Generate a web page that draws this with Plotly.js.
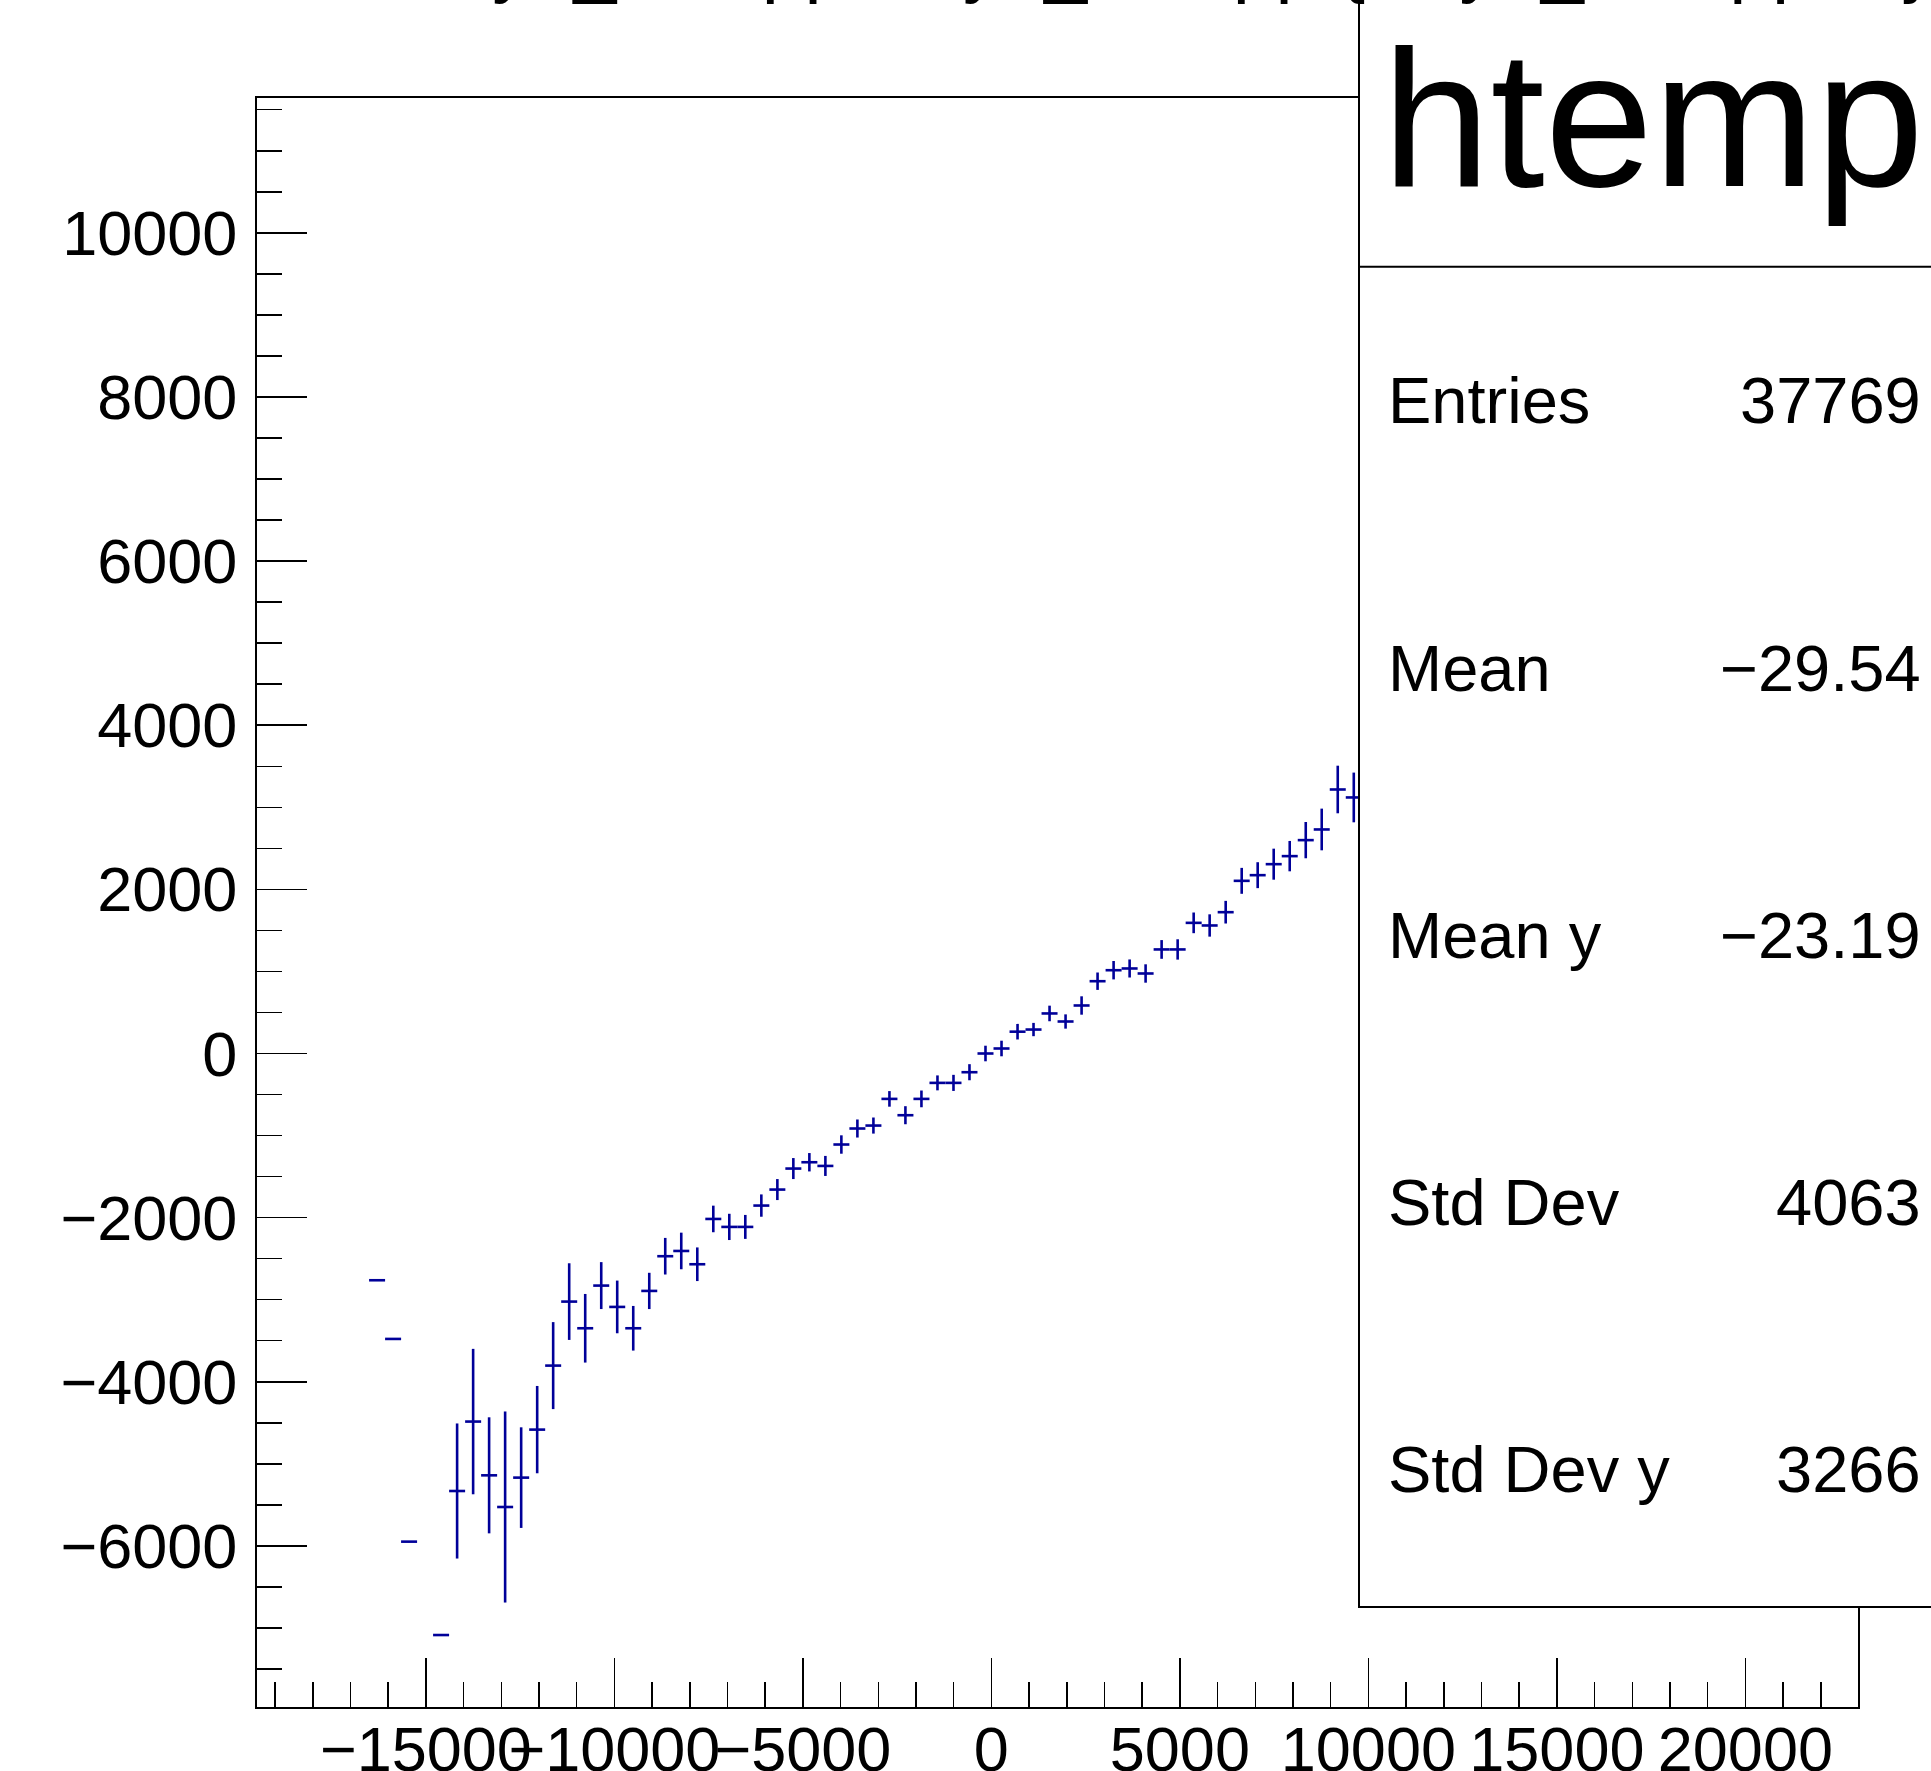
<!DOCTYPE html>
<html>
<head>
<meta charset="utf-8">
<script src="https://cdn.plot.ly/plotly-3.0.1.min.js"></script>
<style>html,body{margin:0;padding:0;background:#fff;}#plot{width:1931px;height:1771px;}</style>
</head>
<body>
<div id="plot"></div>
<script>
// Bin centres (x) of the visible profile bins
const binCenters = [-16295, -15870, -15446, -14597, -14172, -13747, -13323, -12898, -12473, -12048,
  -11624, -11199, -10774, -10349, -9925, -9500, -9075, -8651, -8226, -7801,
  -7376, -6952, -6527, -6102, -5677, -5253, -4828, -4403, -3979, -3554,
  -3129, -2704, -2280, -1855, -1430, -1005, -581, -156, 269, 694,
  1118, 1543, 1968, 2393, 2817, 3242, 3667, 4091, 4516, 4941,
  5366, 5790, 6215, 6640, 7064, 7489, 7914, 8339, 8763, 9188, 9613];
// Profile mean values (y)
const profileMeans = [-2763, -3478, -5948, -7086, -5331, -4485, -5140, -5526, -5168, -4583,
  -3803, -3023, -3348, -2828, -3088, -3348, -2893, -2470, -2406, -2568,
  -2016, -2113, -2113, -1853, -1658, -1402, -1325, -1370, -1109, -914,
  -878, -553, -752, -553, -358, -358, -228, 0, 61, 266,
  292, 488, 390, 585, 881, 1015, 1036, 975, 1268, 1268,
  1592, 1560, 1722, 2104, 2173, 2307, 2405, 2600, 2730, 3217, 3120];
// Errors on the means
const profileErrors = [0, 0, 0, 0, 823, 886, 707, 1164, 613, 532,
  530, 467, 418, 286, 321, 272, 221, 223, 223, 205,
  162, 160, 146, 136, 128, 128, 112, 122, 112, 110,
  98, 95, 110, 102, 91, 98, 98, 95, 95, 95,
  81, 95, 87, 112, 106, 112, 110, 112, 114, 124,
  126, 136, 138, 158, 158, 189, 185, 221, 254, 290, 303];
const halfBinWidth = 212.35;
const xRange = [-19480, 22988];
const yRange = [-7963, 11643];

const statsLabels = ["Entries", "Mean", "Mean y", "Std Dev", "Std Dev y"];
const statsValues = ["37769", "\u221229.54", "\u221223.19", "4063", "3266"];
const histName = "htemp";
const titleText = "dEy1_sumpp:dEy1_sumpp {dEy1_sumpp>0}";

const W = 1931, H = 1771;
const L = 257, R = 1858, T = 98, B = 1707;
const px = x => (x - L) / (R - L);
const py = y => (B - y) / (B - T);

const FONT = "Liberation Sans, Arial, Helvetica, sans-serif";
const col = "#000099";

const trace = {
  type: "scatter", mode: "markers",
  x: binCenters, y: profileMeans,
  marker: {size: 1, color: col},
  error_y: {type: "data", array: profileErrors, visible: true, color: col, thickness: 2.6, width: 0},
  error_x: {type: "constant", value: halfBinWidth, visible: true, color: col, thickness: 2.6, width: 0},
  hoverinfo: "x+y"
};

const axisCommon = {
  showgrid: false, zeroline: false, showline: true, linecolor: "#000", linewidth: 2,
  mirror: true, ticks: "inside", tickcolor: "#000", tickwidth: 1.5,
  tickformat: "d", exponentformat: "none", separatethousands: false,
  tickfont: {family: FONT, size: 63, color: "#000"}, tickangle: 0
};

const annotations = [];
annotations.push({xref: "paper", yref: "paper", x: px(1380), y: py(118), xanchor: "left", yanchor: "middle",
  text: histName, showarrow: false, font: {family: FONT, size: 195, color: "#000"}});
const baselines = [425, 692, 959, 1226, 1493];
statsLabels.forEach((lab, i) => {
  const cy = baselines[i] - 24;
  annotations.push({xref: "paper", yref: "paper", x: px(1386), y: py(cy), xanchor: "left", yanchor: "middle",
    text: lab, showarrow: false, font: {family: FONT, size: 65, color: "#000"}});
  annotations.push({xref: "paper", yref: "paper", x: px(1923), y: py(cy), xanchor: "right", yanchor: "middle",
    text: statsValues[i], showarrow: false, font: {family: FONT, size: 65, color: "#000"}});
});
annotations.push({xref: "paper", yref: "paper", x: px(396), y: py(-39), xanchor: "left", yanchor: "middle",
  text: titleText, showarrow: false, font: {family: FONT, size: 77, color: "#000"}});

const layout = {
  width: W, height: H,
  margin: {l: L, r: W - R, t: T, b: H - B, pad: 0},
  paper_bgcolor: "#fff", plot_bgcolor: "#fff",
  showlegend: false,
  xaxis: Object.assign({}, axisCommon, {range: xRange, tick0: 0, dtick: 5000, ticklen: 49,
    minor: {ticks: "inside", ticklen: 25, dtick: 1000, tick0: 0, tickcolor: "#000", tickwidth: 1.5, showgrid: false},
    ticklabelstandoff: -14}),
  yaxis: Object.assign({}, axisCommon, {range: yRange, tick0: 0, dtick: 2000, ticklen: 50,
    minor: {ticks: "inside", ticklen: 25, dtick: 500, tick0: 0, tickcolor: "#000", tickwidth: 1.5, showgrid: false},
    ticklabelstandoff: 5}),
  shapes: [
    {type: "rect", xref: "paper", yref: "paper", x0: px(1359), x1: px(1960), y0: py(1607), y1: py(-20),
      fillcolor: "#fff", line: {color: "#000", width: 2}, layer: "above"},
    {type: "line", xref: "paper", yref: "paper", x0: px(1359), x1: px(1960), y0: py(266.7), y1: py(266.7),
      line: {color: "#000", width: 2}, layer: "above"}
  ],
  annotations: annotations
};

Plotly.newPlot("plot", [trace], layout, {staticPlot: true});
</script>
</body>
</html>
